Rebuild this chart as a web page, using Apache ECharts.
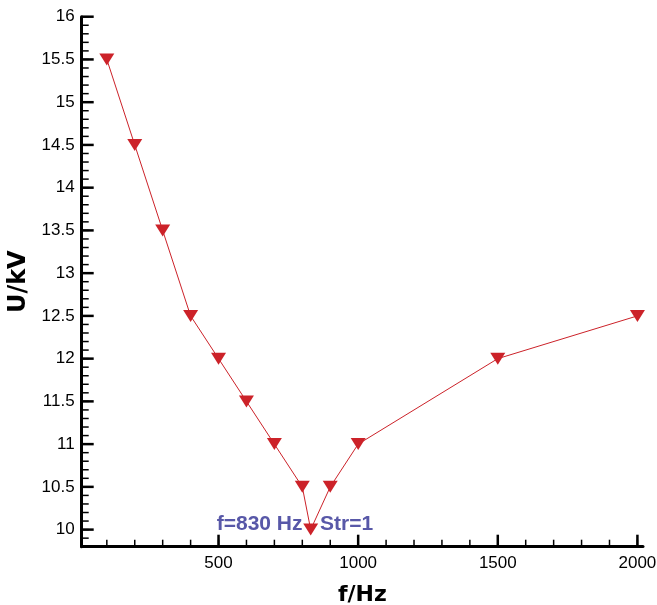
<!DOCTYPE html>
<html>
<head>
<meta charset="utf-8">
<script src="https://cdn.jsdelivr.net/npm/echarts@6/dist/echarts.min.js"></script>
<style>
html,body{margin:0;padding:0;background:#fff;}
#chart{width:657px;height:605px;}
</style>
</head>
<body>
<div id="chart"></div>
<script>
// Data
var freqHz = [100, 200, 300, 400, 500, 600, 700, 800, 830, 900, 1000, 1500, 2000];
var voltageKV = [15.5, 14.5, 13.5, 12.5, 12, 11.5, 11, 10.5, 10, 10.5, 11, 12, 12.5];
var xTickLabels = [500, 1000, 1500, 2000];
var yTickLabels = [10, 10.5, 11, 11.5, 12, 12.5, 13, 13.5, 14, 14.5, 15, 15.5, 16];
var annotationText = 'f=830 Hz   Str=1';

var X_MIN = 10, X_MAX = 2020, Y_MIN = 9.8, Y_MAX = 16;
var xMinor = [];
for (var i = 1; i <= 20; i++) xMinor.push(i * 100);
var yMinor = [];
for (var j = 99; j <= 160; j++) yMinor.push(j / 10);

var pts = freqHz.map(function (f, k) { return [f, voltageKV[k]]; });

// inward tick marks drawn as thin rect symbols placed through the axes' scales
function tickSeries(values, dir, len, width) {
  var data = values.map(function (v) { return dir === 'x' ? [v, Y_MIN] : [X_MIN, v]; });
  return {
    type: 'scatter', data: data, silent: true, clip: false, z: 3,
    symbol: 'rect',
    symbolSize: dir === 'x' ? [width, len] : [len, width],
    symbolOffset: dir === 'x' ? [0, -len / 2] : [len / 2, 0],
    itemStyle: {color: '#000', opacity: 1},
    emphasis: {disabled: true},
    animation: false
  };
}

var chart = echarts.init(document.getElementById('chart'), null, {renderer: 'canvas'});
var axisFont = 'Liberation Sans, Arial, sans-serif';
chart.setOption({
  backgroundColor: '#ffffff',
  animation: false,
  grid: {left: 81.7, right: 14, top: 16.7, bottom: 58.3, containLabel: false, outerBoundsMode: 'none'},
  xAxis: {
    type: 'value', min: X_MIN, max: X_MAX, position: 'bottom',
    axisLine: {show: true, onZero: false, lineStyle: {color: '#000', width: 3}},
    axisTick: {show: false},
    axisLabel: {show: true, customValues: xTickLabels, fontSize: 17, color: '#000', fontFamily: axisFont, margin: 8,
      formatter: function (v) { return String(v); }},
    splitLine: {show: false},
    name: 'f/Hz', nameLocation: 'middle', nameGap: 38,
    nameTextStyle: {fontSize: 22, fontWeight: 'bold', color: '#000', fontFamily: 'DejaVu Sans, sans-serif'}
  },
  yAxis: {
    type: 'value', min: Y_MIN, max: Y_MAX, position: 'left',
    axisLine: {show: true, onZero: false, lineStyle: {color: '#000', width: 3}},
    axisTick: {show: false},
    axisLabel: {show: true, customValues: yTickLabels, fontSize: 17, color: '#000', fontFamily: axisFont, margin: 7},
    splitLine: {show: false},
    name: 'U/kV', nameLocation: 'middle', nameGap: 36, nameRotate: 90,
    nameTextStyle: {fontSize: 24, fontWeight: 'bold', color: '#000', fontFamily: 'DejaVu Sans, sans-serif'}
  },
  series: [
    tickSeries(xTickLabels, 'x', 12, 2.5),
    tickSeries(xMinor, 'x', 7, 1.5),
    tickSeries(yTickLabels, 'y', 12, 2.5),
    tickSeries(yMinor, 'y', 7, 1.5),
    {
      type: 'line',
      data: pts,
      symbol: 'triangle', symbolRotate: 180, symbolSize: [15, 12],
      showSymbol: true,
      lineStyle: {color: '#cc2229', width: 1},
      itemStyle: {color: '#cc2229'},
      z: 5
    }
  ],
  graphic: [{
    type: 'text', left: 216.7, top: 514, z: 1,
    style: {text: annotationText, fill: '#5858a8', font: 'bold 21px "Liberation Sans", Arial, sans-serif'}
  }]
});
</script>
</body>
</html>
